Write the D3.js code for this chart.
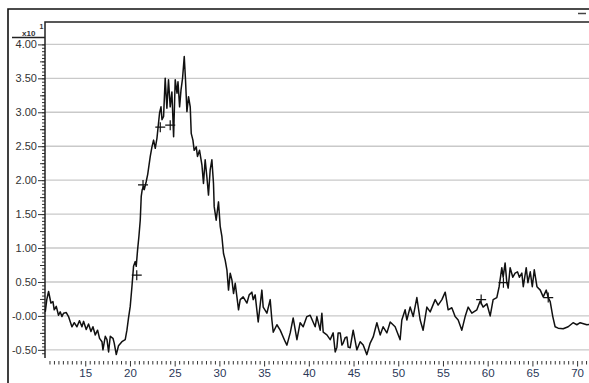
<!DOCTYPE html>
<html>
<head>
<meta charset="utf-8">
<script src="https://cdn.jsdelivr.net/npm/d3@7"></script>
<style>
  html, body { margin: 0; padding: 0; background: #fff; }
  svg { display: block; }
</style>
</head>
<body>
<svg id="chart" width="589" height="383"></svg>
<script>
// Retention time (min) of each sample point of the trace
const retention = [
  10.53, 10.70, 10.90, 11.16, 11.39, 11.53, 11.76, 12.01, 12.20, 12.39,
  12.57, 12.88, 13.13, 13.51, 13.77, 14.07, 14.36, 14.63, 14.81, 15.11,
  15.37, 15.64, 15.86, 16.12, 16.38, 16.60, 16.87, 16.98, 17.24, 17.43,
  17.61, 17.80, 18.10, 18.24, 18.47, 18.72, 19.10, 19.47, 19.66, 19.84,
  20.03, 20.22, 20.40, 20.59, 20.70, 20.85, 21.00, 21.15, 21.26, 21.37,
  21.52, 21.60, 21.82, 21.99, 22.27, 22.46, 22.64, 22.83, 23.02, 23.31,
  23.47, 23.58, 23.76, 23.94, 24.13, 24.31, 24.50, 24.69, 24.88, 25.06,
  25.26, 25.37, 25.55, 25.71, 25.88, 26.07, 26.21, 26.37, 26.55, 26.74,
  26.85, 27.04, 27.18, 27.41, 27.55, 27.78, 28.05, 28.22, 28.41, 28.60,
  28.78, 28.97, 29.16, 29.34, 29.42, 29.64, 29.90, 30.09, 30.28, 30.46,
  30.65, 30.84, 31.02, 31.21, 31.40, 31.58, 31.77, 31.96, 32.14, 32.33,
  32.66, 33.08, 33.33, 33.63, 33.78, 34.00, 34.34, 34.75, 34.90, 35.31,
  35.68, 35.87, 36.02, 36.43, 36.80, 37.36, 37.55, 37.92, 38.25, 38.67,
  39.03, 39.37, 39.78, 40.15, 40.71, 40.90, 41.27, 41.46, 41.61, 42.02,
  42.39, 42.72, 42.95, 43.14, 43.28, 43.51, 43.70, 43.84, 44.07, 44.26,
  44.40, 44.62, 44.96, 45.37, 45.74, 46.08, 46.49, 46.86, 47.20, 47.61,
  47.98, 48.31, 48.73, 49.10, 49.65, 50.21, 50.40, 50.77, 50.96, 51.33,
  51.67, 52.08, 52.45, 52.78, 53.20, 53.57, 54.13, 54.46, 54.88, 55.25,
  55.58, 55.99, 56.36, 56.70, 57.11, 57.48, 57.82, 58.23, 58.79, 59.16,
  59.49, 59.91, 60.28, 60.61, 61.02, 61.28, 61.58, 61.73, 61.95, 62.14,
  62.29, 62.51, 62.81, 63.07, 63.33, 63.55, 63.82, 63.98, 64.31, 64.50,
  64.76, 64.99, 65.21, 65.51, 65.88, 66.21, 66.55, 66.77, 66.99, 67.28,
  67.54, 67.88, 68.44, 69.00, 69.55, 69.97, 70.34, 71.09, 71.68
];

// Detector response (x10^1) at each retention time
const response = [
   0.06,  0.24,  0.36,  0.19,  0.21,  0.09,  0.14,  0.01,  0.06, -0.01,
   0.04,  0.05, -0.01, -0.16, -0.10, -0.16, -0.07, -0.16, -0.08, -0.20,
  -0.12, -0.23, -0.16, -0.28, -0.21, -0.33, -0.38, -0.50, -0.30, -0.35,
  -0.53, -0.30, -0.33, -0.40, -0.57, -0.44, -0.38, -0.35, -0.21, -0.03,
   0.14,  0.43,  0.73,  0.80,  0.73,  0.97,  1.17,  1.41,  1.76,  1.86,
   1.91,  1.86,  1.98,  2.09,  2.35,  2.49,  2.59,  2.47,  2.62,  2.99,
   3.08,  2.89,  2.94,  3.50,  3.06,  3.48,  3.08,  3.30,  2.64,  3.48,
   3.28,  3.45,  3.08,  3.33,  3.50,  3.82,  3.48,  3.01,  3.23,  3.08,
   2.69,  2.59,  2.44,  2.49,  2.35,  2.44,  2.22,  1.95,  2.30,  2.05,
   1.78,  2.15,  2.30,  1.95,  1.61,  1.41,  1.68,  1.32,  1.17,  0.92,
   0.82,  0.68,  0.38,  0.63,  0.53,  0.33,  0.48,  0.28,  0.09,  0.24,
   0.28,  0.19,  0.31,  0.35,  0.24,  0.31, -0.09,  0.38,  0.13,  0.04,
   0.24, -0.06, -0.24, -0.13, -0.21, -0.38, -0.43, -0.25, -0.03, -0.35,
  -0.10, -0.16, -0.01,  0.01, -0.16, -0.01, -0.21,  0.04, -0.24, -0.28,
  -0.35, -0.25, -0.53, -0.46, -0.25, -0.25, -0.43, -0.40, -0.32, -0.31,
  -0.46, -0.47, -0.21, -0.50, -0.38, -0.43, -0.57, -0.40, -0.31, -0.10,
  -0.28, -0.16, -0.25, -0.09, -0.16, -0.35, -0.06,  0.09, -0.06,  0.13,
  -0.01,  0.27, -0.06, -0.21,  0.13,  0.06,  0.24,  0.16,  0.24,  0.35,
   0.09,  0.12, -0.01, -0.06, -0.21, -0.01,  0.13,  0.04,  0.09,  0.22,
   0.13,  0.18,  0.00,  0.24,  0.27,  0.43,  0.71,  0.57,  0.78,  0.49,
   0.41,  0.71,  0.57,  0.63,  0.65,  0.57,  0.63,  0.43,  0.71,  0.49,
   0.65,  0.43,  0.68,  0.43,  0.38,  0.28,  0.38,  0.27,  0.21, -0.01,
  -0.16, -0.18, -0.19, -0.16, -0.10, -0.13, -0.10, -0.13, -0.12
];

// Integration marks placed on the trace
const markTime  = [20.76, 21.46, 23.39, 24.50, 59.27, 61.76, 66.77];
const markValue = [ 0.60,  1.93,  2.78,  2.81,  0.24,  0.49,  0.27];

// Axis ticks
const yMajorTicks  = [-0.5, 0, 0.5, 1.0, 1.5, 2.0, 2.5, 3.0, 3.5, 4.0];
const yTickLabels  = ["-0.50", "-0.00", "0.50", "1.00", "1.50", "2.00", "2.50", "3.00", "3.50", "4.00"];
const xMajorTicks  = [15, 20, 25, 30, 35, 40, 45, 50, 55, 60, 65, 70];
const xTickLabels  = ["15", "20", "25", "30", "35", "40", "45", "50", "55", "60", "65", "70"];

const svg = d3.select("#chart");
const plot = { left: 45, top: 22, right: 595, bottom: 358 };

const x = d3.scaleLinear().domain([10.5, 72.0]).range([plot.left, plot.right]);
const y = d3.scaleLinear().domain([-0.62, 4.33]).range([plot.bottom, plot.top]);

const font = "'Liberation Sans', Arial, sans-serif";

// Outer frame
svg.append("path")
  .attr("d", "M8,383 L8,9 L589,9")
  .attr("fill", "none").attr("stroke", "#111").attr("stroke-width", 1.6);
svg.append("line")
  .attr("x1", 578).attr("x2", 586).attr("y1", 13.5).attr("y2", 13.5)
  .attr("stroke", "#444").attr("stroke-width", 1.5);

// Horizontal grid
svg.append("g").selectAll("line").data(yMajorTicks).join("line")
  .attr("x1", plot.left).attr("x2", 589)
  .attr("y1", d => y(d)).attr("y2", d => y(d))
  .attr("stroke", "#c9c9c9").attr("stroke-width", 1.4);

// Y axis: minor, mid and major ticks
const yMinor = d3.range(-12, 81).map(i => i * 0.05).filter(v => v >= -0.6 && v <= 4.0001);
const yAxisG = svg.append("g").attr("transform", `translate(${plot.left},0)`);
yAxisG.append("g")
  .call(d3.axisLeft(y).tickValues(yMinor).tickSize(3).tickFormat(""))
  .call(g => g.select(".domain").remove());
yAxisG.append("g")
  .call(d3.axisLeft(y).tickValues(yMajorTicks.map(v => v + 0.25).filter(v => v < 4.0)).tickSize(5).tickFormat(""))
  .call(g => g.select(".domain").remove());
yAxisG.append("g")
  .call(d3.axisLeft(y).tickValues(yMajorTicks).tickSize(7).tickPadding(1)
    .tickFormat((d, i) => yTickLabels[i]))
  .call(g => g.select(".domain").remove())
  .call(g => g.selectAll("text").attr("font-family", font).attr("font-size", 11).attr("fill", "#333"));
yAxisG.selectAll(".tick line").attr("stroke", "#333").attr("stroke-width", 1);

// Exponent marker above the y axis
svg.append("line")
  .attr("x1", 12).attr("x2", plot.left).attr("y1", 37.5).attr("y2", 37.5)
  .attr("stroke", "#222").attr("stroke-width", 1.5);
svg.append("text")
  .attr("x", 22).attr("y", 35.5)
  .attr("font-family", font).attr("font-size", 8).attr("font-weight", "bold").attr("fill", "#333")
  .text("x10");
svg.append("text")
  .attr("x", 39.5).attr("y", 29)
  .attr("font-family", font).attr("font-size", 7).attr("font-weight", "bold").attr("fill", "#333")
  .text("1");

// X axis: ticks hang below the plot
const xMinor = d3.range(22, 145).map(i => i * 0.5).filter(v => v % 5 !== 0);
const xAxisG = svg.append("g").attr("transform", `translate(0,361)`);
xAxisG.append("g")
  .call(d3.axisBottom(x).tickValues(xMinor).tickSize(3.5).tickFormat(""))
  .call(g => g.select(".domain").remove());
xAxisG.append("g")
  .call(d3.axisBottom(x).tickValues(xMajorTicks).tickSize(5.5).tickPadding(2)
    .tickFormat((d, i) => xTickLabels[i]))
  .call(g => g.select(".domain").remove())
  .call(g => g.selectAll("text").attr("font-family", font).attr("font-size", 11.5).attr("fill", "#2b3858"));
xAxisG.selectAll(".tick line").attr("stroke", "#333").attr("stroke-width", 1);

// Plot frame (left and top)
svg.append("path")
  .attr("d", `M${plot.left},${plot.bottom} L${plot.left},${plot.top} L589,${plot.top}`)
  .attr("fill", "none").attr("stroke", "#222").attr("stroke-width", 1.5);

// Trace
const points = retention.map((t, i) => [t, response[i]]);
svg.append("path")
  .datum(points)
  .attr("fill", "none").attr("stroke", "#111").attr("stroke-width", 1.5)
  .attr("stroke-linejoin", "round")
  .attr("d", d3.line().x(d => x(d[0])).y(d => y(d[1])));

// Integration marks
const marks = markTime.map((t, i) => [t, markValue[i]]);
svg.append("g").selectAll("path").data(marks).join("path")
  .attr("d", d => {
    const cx = x(d[0]), cy = y(d[1]), r = 5;
    return `M${cx - r},${cy} L${cx + r},${cy} M${cx},${cy - r} L${cx},${cy + r}`;
  })
  .attr("stroke", "#111").attr("stroke-width", 1.2);
</script>
</body>
</html>
